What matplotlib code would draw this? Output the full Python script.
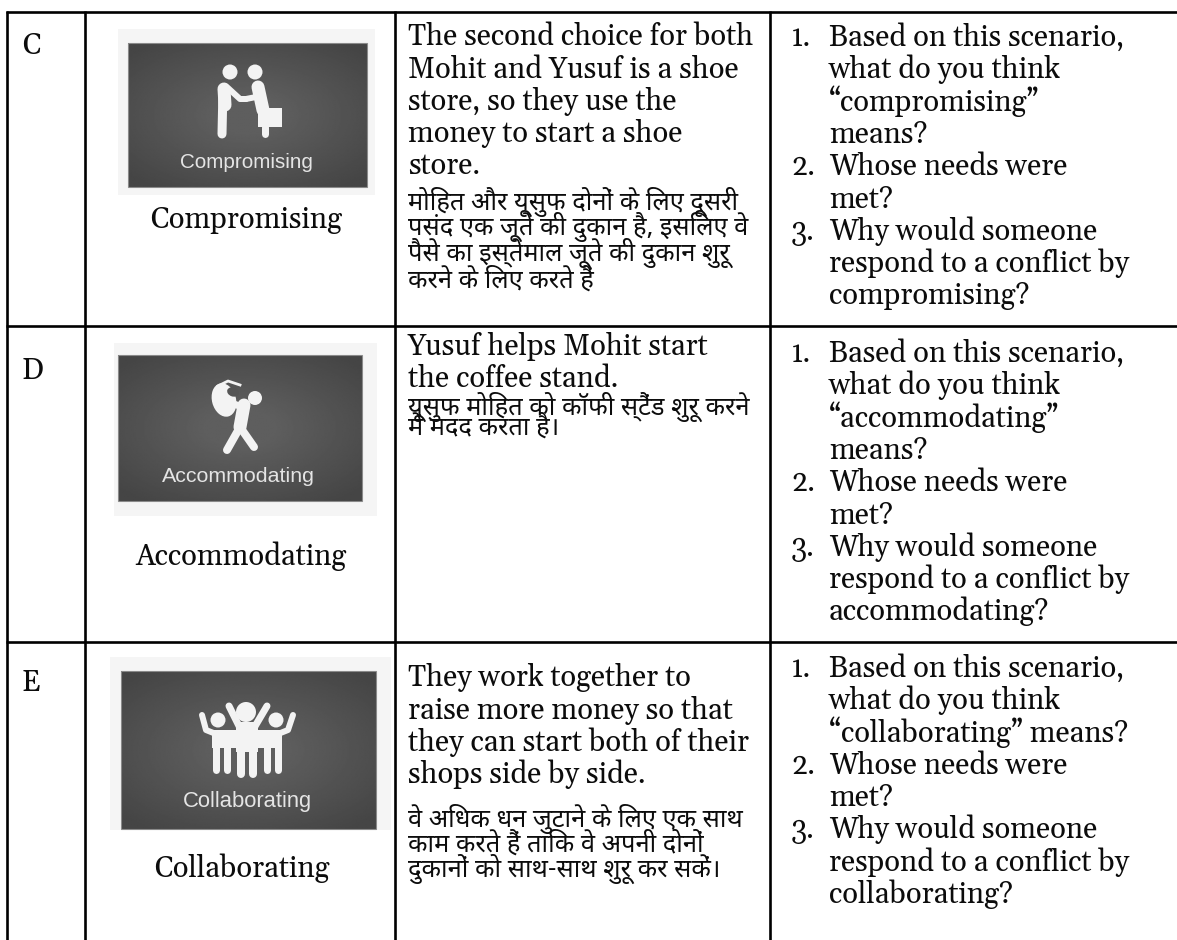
import re
import numpy as np
import matplotlib
matplotlib.use('Agg')
import matplotlib.pyplot as plt
from matplotlib.patches import Circle, Ellipse, Rectangle

SERIF = ['Gelasio', 'Liberation Serif', 'DejaVu Serif']
HINDI = ['Noto Sans Devanagari', 'Hind', 'Mukta', 'FreeSans', 'DejaVu Sans']
SANS = ['Liberation Sans', 'DejaVu Sans']
EN_SIZE = 21
HI_SIZE = 18.3

# rows of the table
row_labels = ['C', 'D', 'E']
row_label_y = [54, 379, 691]
captions = ['Compromising', 'Accommodating', 'Collaborating']
caption_x = [246, 241, 242]
caption_y = [228, 565, 877]

col3_en = [
    ['The second choice for both', 'Mohit and Yusuf is a shoe', 'store, so they use the',
     'money to start a shoe', 'store.'],
    ['Yusuf helps Mohit start', 'the coffee stand.'],
    ['They work together to', 'raise more money so that', 'they can start both of their',
     'shops side by side.'],
]
col3_en_y = [
    [45, 78, 110, 142, 174],
    [355, 387],
    [686, 719, 751, 783],
]
col3_hi = [
    ['मोहित और यूसुफ दोनों के लिए दूसरी', 'पसंद एक जूते की दुकान है, इसलिए वे',
     'पैसे का इस्तेमाल जूते की दुकान शुरू', 'करने के लिए करते हैं'],
    ['यूसुफ मोहित को कॉफी स्टैंड शुरू करने', 'में मदद करता है।'],
    ['वे अधिक धन जुटाने के लिए एक साथ', 'काम करते हैं ताकि वे अपनी दोनों',
     'दुकानों को साथ-साथ शुरू कर सकें।'],
]
col3_hi_y = [
    [210, 235, 261, 288],
    [415, 435],
    [827, 852, 877],
]

questions = [
    [('1.', 'Based on this scenario,'), ('', 'what do you think'), ('', '“compromising”'),
     ('', 'means?'), ('2.', 'Whose needs were'), ('', 'met?'), ('3.', 'Why would someone'),
     ('', 'respond to a conflict by'), ('', 'compromising?')],
    [('1.', 'Based on this scenario,'), ('', 'what do you think'), ('', '“accommodating”'),
     ('', 'means?'), ('2.', 'Whose needs were'), ('', 'met?'), ('3.', 'Why would someone'),
     ('', 'respond to a conflict by'), ('', 'accommodating?')],
    [('1.', 'Based on this scenario,'), ('', 'what do you think'),
     ('', '“collaborating” means?'), ('2.', 'Whose needs were'), ('', 'met?'),
     ('3.', 'Why would someone'), ('', 'respond to a conflict by'), ('', 'collaborating?')],
]
question_y0 = [46, 362, 677]
question_step = 32.3

# grid lines
v_lines = [7, 85, 395, 770]
h_lines = [12, 326, 642]

# thumbnails: light box, dark box, label centre
thumb_light = [(118, 29, 375, 195), (114, 343, 377, 516), (110, 657, 391, 830)]
thumb_dark = [(128, 43, 367, 187), (118, 355, 362, 501), (121, 671, 376, 829)]
thumb_label_xy = [(246, 163), (238, 476), (247, 802)]
thumb_label_size = [14.9, 15.4, 15.8]

ICON = '#f3f3f3'
TEXT = '#0c0c0c'


def visual_order(s):
    # matplotlib does no shaping, so the i-matra has to go in front of its consonant
    return re.sub('((?:[क-ह]़?्)*[क-ह]़?)ि', 'ि\\1', s)


def thumb(ax, light, dark):
    x0, y0, x1, y1 = light
    ax.add_patch(Rectangle((x0, y0), x1 - x0, y1 - y0, fc='#f5f5f5', ec='none', zorder=1))
    x0, y0, x1, y1 = dark
    yy, xx = np.mgrid[-1:1:120j, -1:1:200j]
    shade = 0.27 + 0.10 * np.clip(1.25 - np.hypot(xx * 0.9, yy), 0, 1)
    ax.imshow(shade, extent=(x0, x1, y1, y0), cmap='gray', vmin=0, vmax=1,
              zorder=2, aspect='auto', interpolation='bilinear')
    ax.add_patch(Rectangle((x0, y0), x1 - x0, y1 - y0, fc='none', ec='#8a8a8a', lw=0.8, zorder=3))


def limb(ax, pts, w):
    xs, ys = zip(*pts)
    ax.plot(xs, ys, color=ICON, lw=w * 0.72, solid_capstyle='round',
            solid_joinstyle='round', zorder=4)


def head(ax, x, y, r):
    ax.add_patch(Circle((x, y), r, fc=ICON, ec='none', zorder=4))


def icon_compromise(ax):
    head(ax, 230, 72, 7.5)
    head(ax, 255, 72, 7.5)
    limb(ax, [(223, 88), (222, 134)], 9)
    limb(ax, [(224, 89), (225, 105)], 13)
    limb(ax, [(228, 88), (240, 99), (246, 99)], 6)
    limb(ax, [(246, 99), (256, 97), (259, 88)], 6)
    limb(ax, [(258, 87), (263, 110)], 13)
    ax.add_patch(Rectangle((257.5, 108), 24, 19, fc=ICON, ec='none', zorder=5))
    limb(ax, [(265, 127), (265, 134)], 7)


def icon_accommodate(ax):
    head(ax, 255, 398, 7)
    ax.add_patch(Ellipse((224, 400), 24, 34, angle=-15, fc=ICON, ec='none', zorder=4))
    ax.add_patch(Ellipse((233, 392), 12, 9, angle=20, fc='#555555', ec='none', zorder=5))
    ax.plot([218, 228, 240], [386, 381, 385], color=ICON, lw=2, zorder=5)
    limb(ax, [(244, 405), (240, 427)], 13)
    limb(ax, [(240, 427), (227, 450)], 8)
    limb(ax, [(240, 427), (254, 447)], 8)
    limb(ax, [(231, 403), (245, 408)], 7)


def icon_collaborate(ax):
    head(ax, 246, 712, 10)
    head(ax, 218, 720, 7.5)
    head(ax, 276, 720, 7.5)
    # shared torso of the three figures
    ax.add_patch(Rectangle((212, 730), 70, 18, fc=ICON, ec='none', zorder=4))
    ax.add_patch(Rectangle((236, 722), 22, 30, fc=ICON, ec='none', zorder=4))
    limb(ax, [(229, 706), (240, 728)], 7)
    limb(ax, [(267, 706), (254, 728)], 7)
    limb(ax, [(241, 745), (241, 774)], 8)
    limb(ax, [(253, 745), (253, 774)], 8)
    limb(ax, [(202, 715), (206, 730), (216, 734)], 6)
    limb(ax, [(293, 715), (288, 730), (278, 734)], 6)
    limb(ax, [(216, 746), (216, 770)], 7)
    limb(ax, [(227, 746), (227, 770)], 7)
    limb(ax, [(267, 746), (267, 770)], 7)
    limb(ax, [(278, 746), (278, 770)], 7)


fig = plt.figure(figsize=(11.77, 9.4), dpi=100)
ax = fig.add_axes([0, 0, 1, 1])
ax.set_xlim(0, 1177)
ax.set_ylim(940, 0)
ax.axis('off')

for x in v_lines:
    ax.plot([x, x], [h_lines[0] - 1, 940], color='black', lw=1.9, solid_capstyle='butt', zorder=6)
for y in h_lines:
    ax.plot([v_lines[0] - 1, 1177], [y, y], color='black', lw=1.9, solid_capstyle='butt', zorder=6)

for i in range(3):
    ax.text(22, row_label_y[i], row_labels[i], family=SERIF, fontsize=EN_SIZE, va='baseline', color=TEXT)
    thumb(ax, thumb_light[i], thumb_dark[i])
    lx, ly = thumb_label_xy[i]
    ax.text(lx, ly, captions[i], family=SANS, fontsize=thumb_label_size[i], color='#e4e4e4',
            ha='center', va='center', zorder=5)
    ax.text(caption_x[i], caption_y[i], captions[i], family=SERIF, fontsize=EN_SIZE,
            ha='center', va='baseline', color=TEXT)
    for line, y in zip(col3_en[i], col3_en_y[i]):
        ax.text(408, y, line, family=SERIF, fontsize=EN_SIZE, va='baseline', color=TEXT)
    for line, y in zip(col3_hi[i], col3_hi_y[i]):
        ax.text(408, y, visual_order(line), family=HINDI, fontsize=HI_SIZE, va='baseline', color=TEXT)
    for j, (num, line) in enumerate(questions[i]):
        y = question_y0[i] + j * question_step
        if num:
            ax.text(791, y, num, family=SERIF, fontsize=EN_SIZE, va='baseline', color=TEXT)
        ax.text(829, y, line, family=SERIF, fontsize=EN_SIZE, va='baseline', color=TEXT)

icon_compromise(ax)
icon_accommodate(ax)
icon_collaborate(ax)

ax.set_xlim(0, 1177)
ax.set_ylim(940, 0)
fig.savefig('out.png', dpi=100)
